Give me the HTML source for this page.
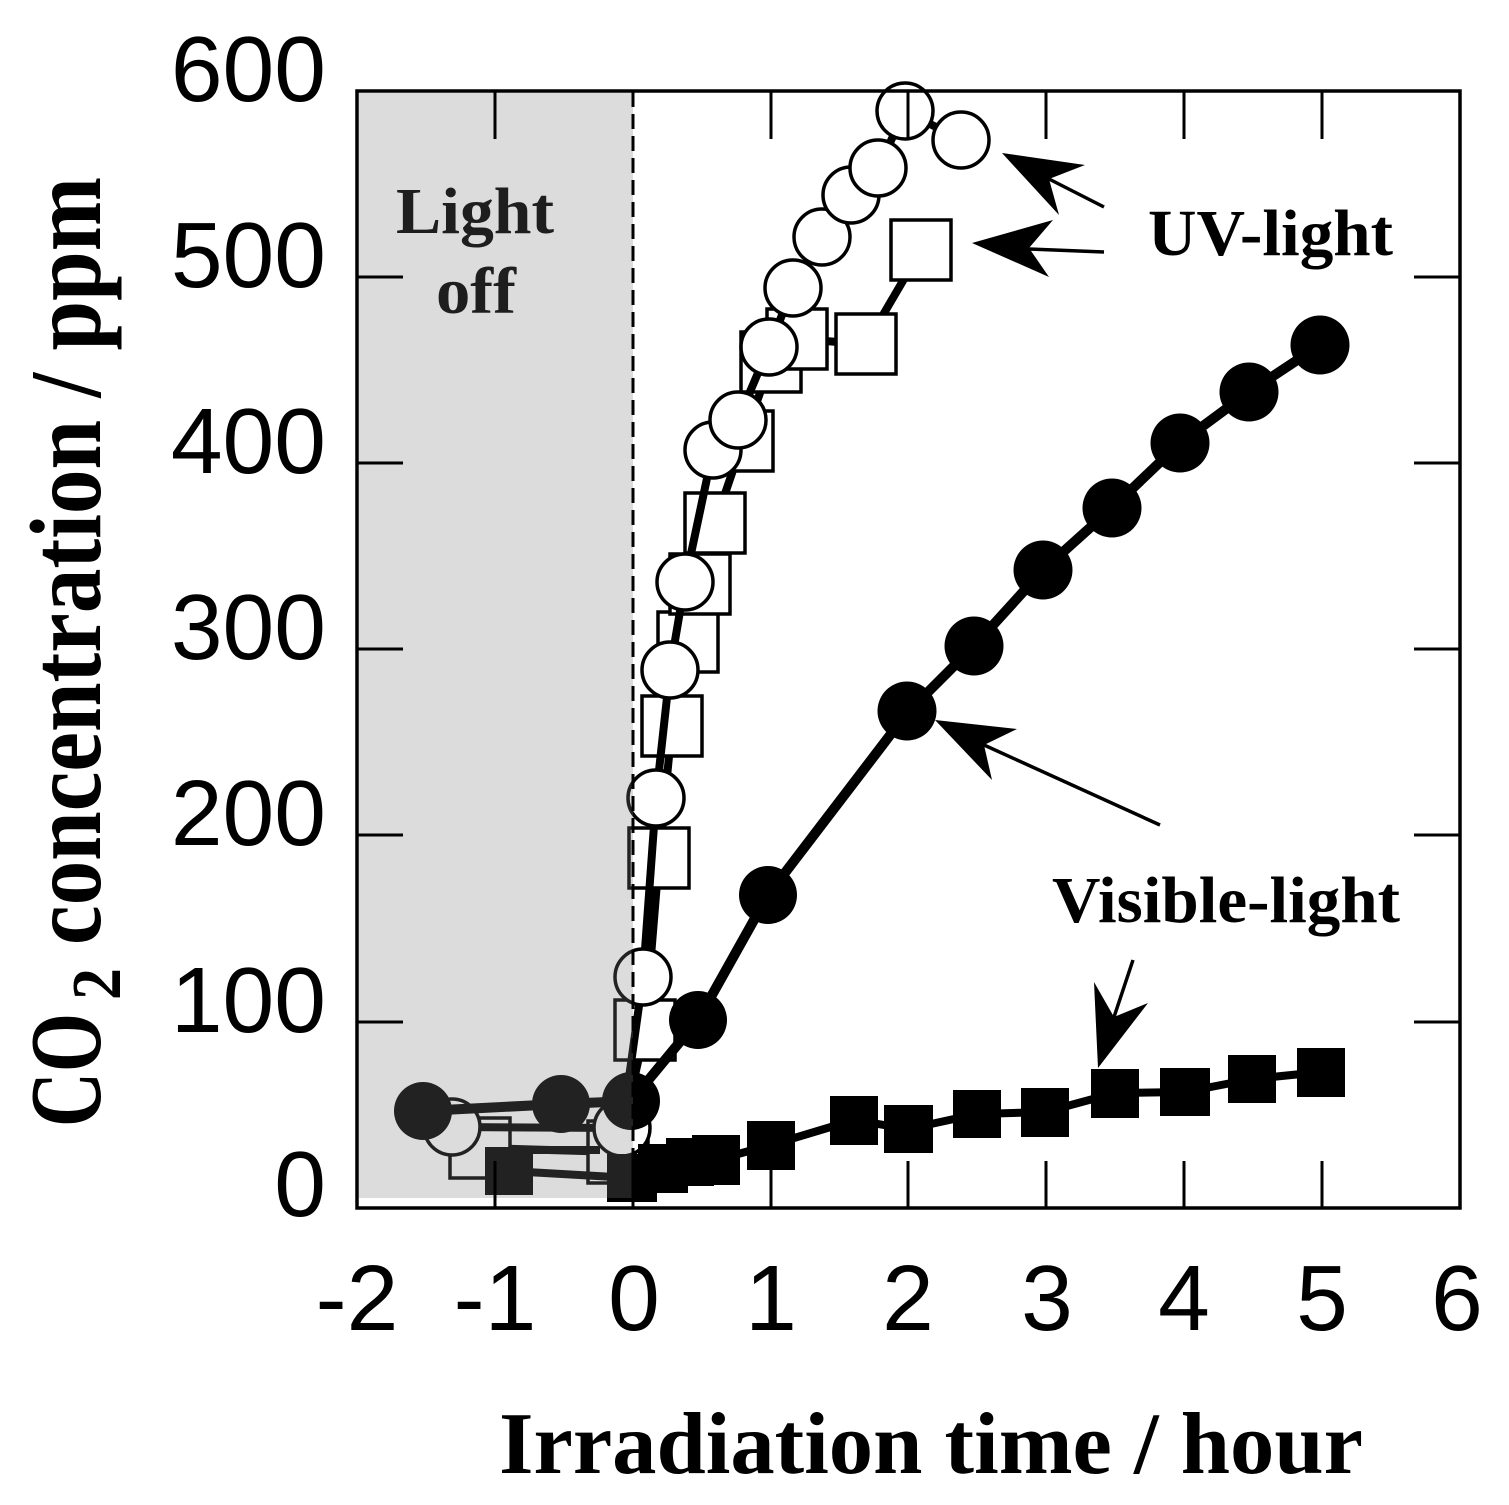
<!DOCTYPE html>
<html>
<head>
<meta charset="utf-8">
<style>
  html, body { margin:0; padding:0; background:#fff; }
  svg { display:block; }
  .tick { font-family:"Liberation Sans", Arial, sans-serif; font-size:93px; fill:#000; }
  .serif { font-family:"Liberation Serif", "Times New Roman", serif; font-weight:bold; fill:#000; }
</style>
</head>
<body>
<svg width="1509" height="1505" viewBox="0 0 1509 1505" xmlns="http://www.w3.org/2000/svg">
  <rect x="0" y="0" width="1509" height="1505" fill="#fff"/>

  <!-- ===== Open squares series (UV) ===== -->
  <polyline fill="none" stroke="#000" stroke-width="8" stroke-linejoin="round"
    points="480,1148 618,1152 645,1030 659,858 672,726 688,642 700,584 715,523 743,441 771,362 797,339 866,344 921,250"/>
  <g fill="#fff" stroke="#000" stroke-width="3.5">
    <rect x="450" y="1118" width="60" height="60"/>
    <rect x="588" y="1121" width="60" height="62"/>
    <rect x="615" y="1000" width="60" height="60"/>
    <rect x="629" y="828" width="60" height="60"/>
    <rect x="642" y="696" width="60" height="60"/>
    <rect x="658" y="612" width="60" height="60"/>
    <rect x="670" y="554" width="60" height="60"/>
    <rect x="685" y="493" width="60" height="60"/>
    <rect x="713" y="411" width="60" height="60"/>
    <rect x="741" y="332" width="60" height="60"/>
    <rect x="767" y="309" width="60" height="60"/>
    <rect x="836" y="314" width="60" height="60"/>
    <rect x="891" y="220" width="60" height="60"/>
  </g>

  <!-- ===== Open circles series (UV) ===== -->
  <polyline fill="none" stroke="#000" stroke-width="8" stroke-linejoin="round"
    points="452,1127 622,1128 643,977 656,798 670,670 685,582 713,450 738,420 769,347 793,288 822,237 851,195 878,168 905,111 961,140"/>
  <g fill="#fff" stroke="#000" stroke-width="3.5">
    <circle cx="452" cy="1127" r="28"/>
    <circle cx="622" cy="1128" r="28"/>
    <circle cx="643" cy="977" r="28"/>
    <circle cx="656" cy="798" r="28"/>
    <circle cx="670" cy="670" r="28"/>
    <circle cx="685" cy="582" r="28"/>
    <circle cx="713" cy="450" r="28"/>
    <circle cx="738" cy="420" r="28"/>
    <circle cx="769" cy="347" r="28"/>
    <circle cx="793" cy="288" r="28"/>
    <circle cx="822" cy="237" r="28"/>
    <circle cx="851" cy="195" r="28"/>
    <circle cx="878" cy="168" r="28"/>
    <circle cx="905" cy="111" r="28"/>
    <circle cx="961" cy="140" r="28"/>
  </g>

  <!-- ===== Filled squares series (Visible) ===== -->
  <polyline fill="none" stroke="#000" stroke-width="8" stroke-linejoin="round"
    points="509,1150 600,1150"/>
  <polyline fill="none" stroke="#000" stroke-width="8" stroke-linejoin="round"
    points="509,1171 632,1178 662,1168 690,1162 716,1160 771,1145 854,1120 908,1129 977,1114 1045,1112 1115,1093 1185,1092 1252,1079 1321,1072"/>
  <g fill="#000">
    <rect x="485" y="1147" width="48" height="48"/>
    <rect x="607" y="1154" width="50" height="48"/>
    <rect x="638" y="1144" width="50" height="49"/>
    <rect x="666" y="1138" width="48" height="48"/>
    <rect x="692" y="1135" width="48" height="50"/>
    <rect x="747" y="1121" width="48" height="49"/>
    <rect x="830" y="1096" width="48" height="49"/>
    <rect x="884" y="1105" width="49" height="48"/>
    <rect x="953" y="1090" width="48" height="48"/>
    <rect x="1021" y="1088" width="48" height="49"/>
    <rect x="1091" y="1069" width="48" height="49"/>
    <rect x="1160" y="1068" width="50" height="48"/>
    <rect x="1228" y="1055" width="48" height="48"/>
    <rect x="1297" y="1048" width="48" height="49"/>
  </g>

  <!-- ===== Filled circles series (Visible) ===== -->
  <polyline fill="none" stroke="#000" stroke-width="10" stroke-linejoin="round"
    points="423,1111 561,1104 631,1101 698,1020 768,895 907,713 974,646 1043,570 1112,508 1180,443 1249,392 1320,345"/>
  <g fill="#000">
    <circle cx="423" cy="1111" r="29"/>
    <circle cx="561" cy="1104" r="29"/>
    <circle cx="631" cy="1101" r="29"/>
    <circle cx="698" cy="1020" r="29"/>
    <circle cx="768" cy="895" r="29"/>
    <circle cx="907" cy="711" r="29.5"/>
    <circle cx="974" cy="646" r="29.5"/>
    <circle cx="1043" cy="570" r="29.5"/>
    <circle cx="1112" cy="508" r="29.5"/>
    <circle cx="1180" cy="443" r="29.5"/>
    <circle cx="1249" cy="392" r="29.5"/>
    <circle cx="1320" cy="345" r="29.5"/>
  </g>

  <!-- ===== Light-off shaded overlay ===== -->
  <rect x="359" y="93" width="274" height="1105" fill="rgb(126,126,126)" fill-opacity="0.27"/>

  <!-- dashed line at t=0 -->
  <line x1="633" y1="92" x2="633" y2="1208" stroke="#000" stroke-width="3" stroke-dasharray="15 7"/>

  <!-- ===== Frame ===== -->
  <rect x="357" y="91" width="1103" height="1117" fill="none" stroke="#000" stroke-width="3.5"/>

  <!-- x ticks bottom and top -->
  <g stroke="#000" stroke-width="3">
    <line x1="495" y1="1208" x2="495" y2="1161"/>
    <line x1="633" y1="1208" x2="633" y2="1161"/>
    <line x1="771" y1="1208" x2="771" y2="1161"/>
    <line x1="908" y1="1208" x2="908" y2="1161"/>
    <line x1="1046" y1="1208" x2="1046" y2="1161"/>
    <line x1="1184" y1="1208" x2="1184" y2="1161"/>
    <line x1="1322" y1="1208" x2="1322" y2="1161"/>

    <line x1="495" y1="91" x2="495" y2="139"/>
    <line x1="771" y1="91" x2="771" y2="139"/>
    <line x1="908" y1="91" x2="908" y2="139"/>
    <line x1="1046" y1="91" x2="1046" y2="139"/>
    <line x1="1184" y1="91" x2="1184" y2="139"/>
    <line x1="1322" y1="91" x2="1322" y2="139"/>

    <!-- y ticks left -->
    <line x1="357" y1="1022" x2="403" y2="1022"/>
    <line x1="357" y1="835" x2="403" y2="835"/>
    <line x1="357" y1="649" x2="403" y2="649"/>
    <line x1="357" y1="463" x2="403" y2="463"/>
    <line x1="357" y1="277" x2="403" y2="277"/>
    <!-- y ticks right -->
    <line x1="1460" y1="1022" x2="1414" y2="1022"/>
    <line x1="1460" y1="835" x2="1414" y2="835"/>
    <line x1="1460" y1="649" x2="1414" y2="649"/>
    <line x1="1460" y1="463" x2="1414" y2="463"/>
    <line x1="1460" y1="277" x2="1414" y2="277"/>
  </g>

  <!-- ===== Tick labels ===== -->
  <g class="tick" text-anchor="end">
    <text x="326" y="101">600</text>
    <text x="326" y="287">500</text>
    <text x="326" y="473">400</text>
    <text x="326" y="659">300</text>
    <text x="326" y="845">200</text>
    <text x="326" y="1032">100</text>
    <text x="326" y="1216">0</text>
  </g>
  <g class="tick" text-anchor="middle">
    <text x="357" y="1330">-2</text>
    <text x="495" y="1330">-1</text>
    <text x="634" y="1330">0</text>
    <text x="771" y="1330">1</text>
    <text x="908" y="1330">2</text>
    <text x="1047" y="1330">3</text>
    <text x="1184" y="1330">4</text>
    <text x="1322" y="1330">5</text>
    <text x="1457" y="1330">6</text>
  </g>

  <!-- ===== Axis titles ===== -->
  <text class="serif" x="499" y="1473" font-size="88" textLength="864" lengthAdjust="spacingAndGlyphs">Irradiation time / hour</text>

  <g transform="translate(100,1127) rotate(-90)">
    <text class="serif" x="0" y="0" font-size="102" textLength="114" lengthAdjust="spacingAndGlyphs">CO</text>
    <text class="serif" x="127" y="20" font-size="70" textLength="32" lengthAdjust="spacingAndGlyphs">2</text>
    <text class="serif" x="182" y="0" font-size="102" textLength="768" lengthAdjust="spacingAndGlyphs">concentration / ppm</text>
  </g>

  <!-- ===== Annotations ===== -->
  <text class="serif" x="396" y="233" font-size="66" textLength="158" lengthAdjust="spacingAndGlyphs" style="fill:#1e1e1e">Light</text>
  <text class="serif" x="436" y="313" font-size="66" textLength="80" lengthAdjust="spacingAndGlyphs" style="fill:#1e1e1e">off</text>

  <text class="serif" x="1148" y="255" font-size="66" textLength="245" lengthAdjust="spacingAndGlyphs">UV-light</text>
  <text class="serif" x="1052" y="922" font-size="66" textLength="348" lengthAdjust="spacingAndGlyphs">Visible-light</text>

  <!-- arrows -->
  <g stroke="#000" stroke-width="3.5" fill="none">
    <line x1="1049" y1="179" x2="1104" y2="207"/>
    <line x1="1029" y1="249" x2="1104" y2="252"/>
    <line x1="984" y1="745" x2="1160" y2="825"/>
    <line x1="1114" y1="1017" x2="1133" y2="960"/>
  </g>
  <g fill="#000">
    <polygon points="1002,153 1085,165 1049,179 1059,215"/>
    <polygon points="972,243 1053,220 1029,248 1049,277"/>
    <polygon points="935,720 1017,729 984,745 992,780"/>
    <polygon points="1098,1068 1094,982 1114,1017 1148,1003"/>
  </g>
</svg>
</body>
</html>
